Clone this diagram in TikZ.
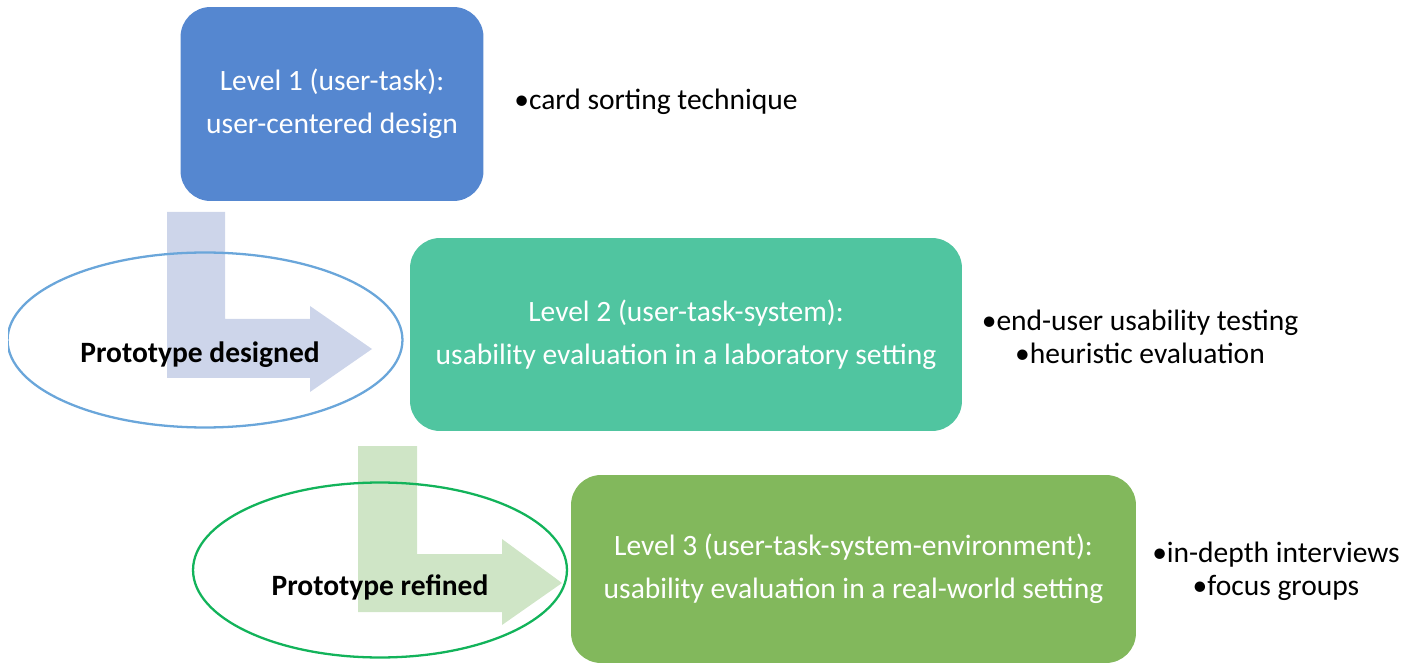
\documentclass[tikz,border=0pt]{standalone}
\usepackage{fontspec}
\setmainfont{Carlito}
\usetikzlibrary{shapes.geometric}
\definecolor{levelone}{HTML}{5587D0}
\definecolor{leveltwo}{HTML}{50C5A0}
\definecolor{levelthree}{HTML}{82B85C}
\definecolor{arrowblue}{HTML}{CDD5EA}
\definecolor{arrowgreen}{HTML}{CFE5C6}
\definecolor{ringblue}{HTML}{6AA6DA}
\definecolor{ringgreen}{HTML}{12B35A}
\tikzset{
  levelbox/.style={rounded corners=0.6cm, text=white, align=center, inner sep=0pt,
    font=\fontsize{16.8}{24.4}\selectfont},
  methods/.style={align=center, font=\fontsize{16.8}{19}\selectfont},
  stage/.style={ellipse, draw, line width=1.3pt, inner sep=0pt, fill=none},
  stagetext/.style={font=\bfseries\fontsize{16.8}{19}\selectfont}
}
\begin{document}
\begin{tikzpicture}[x=0.02cm,y=-0.02cm]
\useasboundingbox (0,0) rectangle (1413,665);

% the three levels
\node[levelbox, fill=levelone, minimum width=6.06cm, minimum height=3.88cm] (lone) at (332,104)
  {Level 1 (user-task):\\user-centered design};
\node[levelbox, fill=leveltwo, minimum width=11.04cm, minimum height=3.86cm] (ltwo) at (686,334.5)
  {Level 2 (user-task-system):\\usability evaluation in a laboratory setting};
\node[levelbox, fill=levelthree, minimum width=11.3cm, minimum height=3.76cm] (lthree) at (853.5,569)
  {Level 3 (user-task-system-environment):\\usability evaluation in a real-world setting};

% methods
\node[methods] (mone) at (656,102) {•card sorting technique};
\node[methods] (mtwo) at (1140,337) {•end-user usability testing\\•heuristic evaluation};
\node[methods] (mthree) at (1276,571) {•in-depth interviews\\•focus groups};

% bent arrows
\fill[arrowblue] (167,212) -- (225,212) -- (225,319) -- (310,319) -- (310,306)
  -- (372,349) -- (310,392) -- (310,378) -- (167,378) -- cycle;
\fill[arrowgreen] (358,446) -- (417,446) -- (417,554) -- (502,554) -- (502,539)
  -- (562,583) -- (502,625) -- (502,612) -- (358,612) -- cycle;

% prototype stages
\begin{scope}
\clip (8,0) rectangle (1413,665);
\node[stage, draw=ringblue, minimum width=7.9cm, minimum height=3.5cm] (sone) at (205,340) {};
\end{scope}
\node[stage, draw=ringgreen, minimum width=7.48cm, minimum height=3.5cm] (stwo) at (380,570) {};
\node[stagetext] (tone) at (200,355) {Prototype designed};
\node[stagetext] (ttwo) at (380,587) {Prototype refined};

\end{tikzpicture}
\end{document}
